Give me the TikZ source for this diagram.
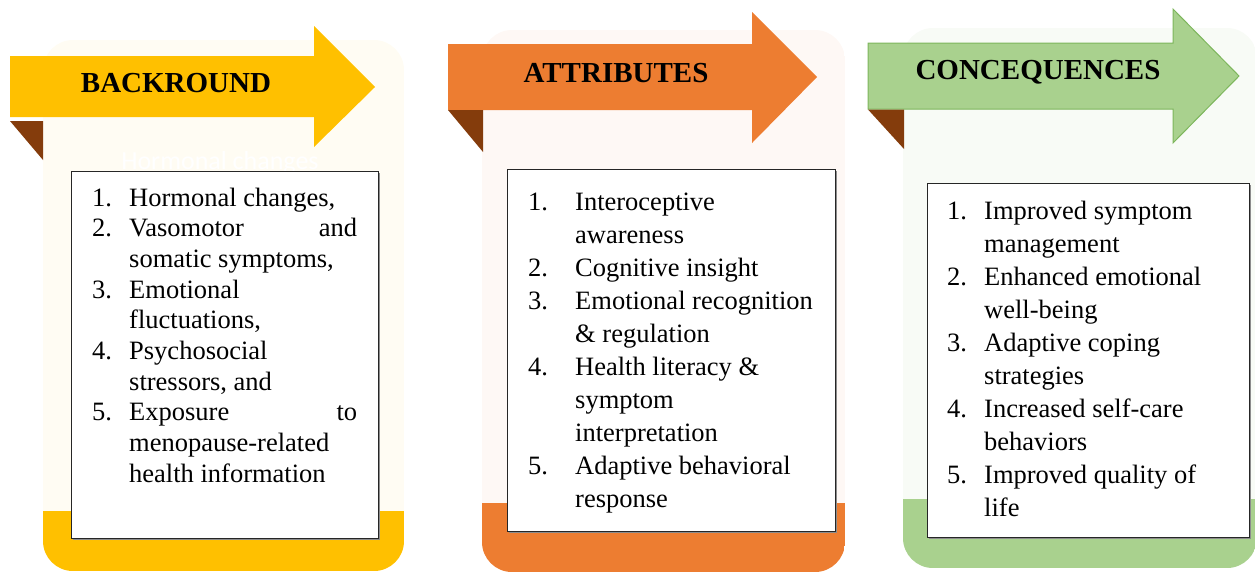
\documentclass[tikz,border=0pt]{standalone}
\usepackage{fontspec}
\usepackage{array}
\setmainfont{Liberation Serif}
\newfontfamily\ghostfont{Carlito}

\definecolor{bkyellow}{HTML}{FFC000}
\definecolor{atorange}{HTML}{ED7D31}
\definecolor{cqgreen}{HTML}{A9D18E}
\definecolor{cqedge}{HTML}{7DB65C}
\definecolor{foldbrown}{HTML}{843C0C}
\definecolor{bgyellow}{HTML}{FFFCF3}
\definecolor{bgorange}{HTML}{FEF8F5}
\definecolor{bggreen}{HTML}{F8FBF6}

\tikzset{
  title/.style={inner sep=0pt, font=\fontsize{29}{34}\selectfont\bfseries},
  listbox/.style={anchor=base west, inner sep=0pt, align=left},
  itembox/.style={fill=white, draw=black!85, line width=0.9pt},
  boxshadow/.style={fill=black!45},
  fold/.style={fill=foldbrown}
}

\begin{document}
\begin{tikzpicture}[x=1pt,y=-1pt]

  \useasboundingbox (0,0) rectangle (1255,571);

  % Panel backgrounds with coloured bottom band
  \begin{scope}
    \clip[rounded corners=30pt] (43,40) rectangle (404,571);
    \fill[bgyellow] (43,40) rectangle (404,571);
    \fill[bkyellow] (43,511) rectangle (404,571);
  \end{scope}
  \begin{scope}
    \clip[rounded corners=30pt] (482,30) rectangle (845,572);
    \fill[bgorange] (482,30) rectangle (845,572);
    \fill[atorange] (482,503) rectangle (845,572);
  \end{scope}
  \begin{scope}
    \clip[rounded corners=30pt] (903,28) rectangle (1257,568);
    \fill[bggreen] (903,28) rectangle (1257,568);
    \fill[cqgreen] (903,499) rectangle (1257,568);
  \end{scope}

  \node[font=\ghostfont\fontsize{26}{30}\selectfont, text=white] (bkGhost) at (220,163) {Hormonal changes};

  % Item boxes
  \fill[boxshadow] (72.5,172.5) rectangle (379.5,539.5);
  \draw[itembox] (71,171) rectangle (378,538);
  \fill[boxshadow] (508.5,170.5) rectangle (836.5,532.5);
  \draw[itembox] (507,169) rectangle (835,531);
  \fill[boxshadow] (928.5,184.5) rectangle (1250.5,538.5);
  \draw[itembox] (927,183) rectangle (1249,537);

  \node[listbox, font=\fontsize{26.5}{30.7}\selectfont] (bkList) at (92,206) {%
    \begin{tabular}[t]{@{}p{37pt}@{}p{228pt}@{}}
      1. & Hormonal changes,\\
      2. & \makebox[\linewidth][s]{Vasomotor and}\\
         & somatic symptoms,\\
      3. & Emotional\\
         & fluctuations,\\
      4. & Psychosocial\\
         & stressors, and\\
      5. & \makebox[\linewidth][s]{Exposure to}\\
         & menopause-related\\
         & health information
    \end{tabular}};

  \node[listbox, font=\fontsize{26.5}{33}\selectfont] (atList) at (528,210) {%
    \begin{tabular}[t]{@{}p{47pt}@{}l@{}}
      1. & Interoceptive\\
         & awareness\\
      2. & Cognitive insight\\
      3. & Emotional recognition\\
         & \& regulation\\
      4. & Health literacy \&\\
         & symptom\\
         & interpretation\\
      5. & Adaptive behavioral\\
         & response
    \end{tabular}};

  \node[listbox, font=\fontsize{26.5}{33}\selectfont] (cqList) at (947,219.5) {%
    \begin{tabular}[t]{@{}p{37pt}@{}l@{}}
      1. & Improved symptom\\
         & management\\
      2. & Enhanced emotional\\
         & well-being\\
      3. & Adaptive coping\\
         & strategies\\
      4. & Increased self-care\\
         & behaviors\\
      5. & Improved quality of\\
         & life
    \end{tabular}};

  % Header arrows and folds
  \fill[bkyellow] (10,56) -- (314,56) -- (314,26) -- (375,87) -- (314,147) -- (314,117) -- (10,117) -- cycle;
  \fill[fold] (10,121) -- (43,121) -- (43,160) -- cycle;
  \node[title] (bkTitle) at (176,83) {BACKROUND};

  \fill[atorange] (448,44) -- (752,44) -- (752,12) -- (817,77) -- (752,143) -- (752,110) -- (448,110) -- cycle;
  \fill[fold] (448,110) -- (483,110) -- (483,152) -- cycle;
  \node[title] (atTitle) at (616,73) {ATTRIBUTES};

  \filldraw[fill=cqgreen, draw=cqedge, line width=1pt] (868,43) -- (1173,43) -- (1173,9) -- (1239,76) -- (1173,143) -- (1173,109) -- (868,109) -- cycle;
  \fill[fold] (868,109.5) -- (904,109.5) -- (904,149) -- cycle;
  \node[title] (cqTitle) at (1038,72) {CONCEQUENCES};

\end{tikzpicture}
\end{document}
